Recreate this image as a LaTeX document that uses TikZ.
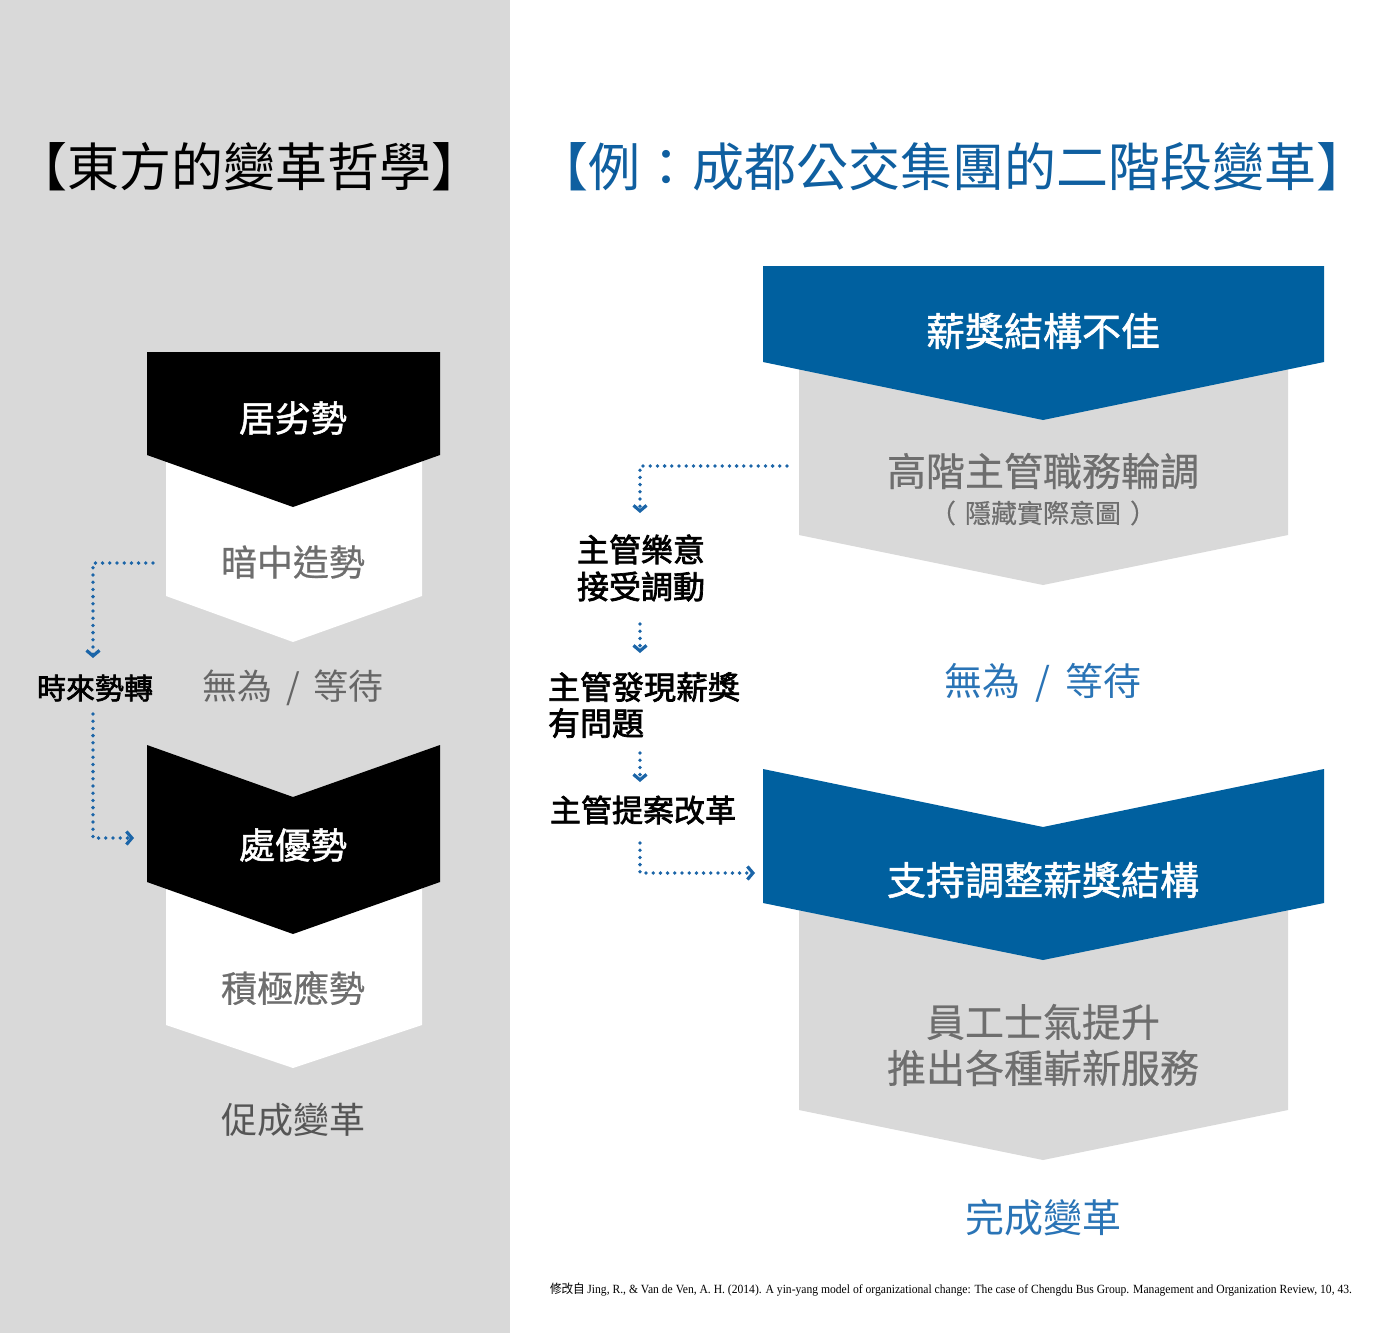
\documentclass[tikz,border=0pt]{standalone}
\usepackage{fontspec}
\setmainfont{Noto Sans CJK TC}
\newfontfamily\medA{Noto Sans CJK TC}[FakeBold=1.4]
\newfontfamily\medB{Noto Sans CJK TC}[FakeBold=0.5]
\newfontfamily\medC{Noto Sans CJK TC}[FakeBold=2.2]
\newfontfamily\citefont{Liberation Serif}
\usetikzlibrary{arrows.meta}
\definecolor{leftbg}{HTML}{D9D9D9}
\definecolor{shapegray}{HTML}{D9D9D9}
\definecolor{mainblue}{HTML}{00609F}
\definecolor{dotblue}{HTML}{1B65A8}
\definecolor{lightblue}{HTML}{2A74B6}
\definecolor{titleblue}{HTML}{0F5FA0}
\definecolor{midgray}{HTML}{6E6E6E}
\definecolor{darkgray}{HTML}{555555}
\tikzset{
  dotline/.style={draw=dotblue, line width=3.8pt, line cap=round, dash pattern=on 0pt off 7.2pt,
    -{Straight Barb[length=5.5pt,width=13pt,line width=3.2pt]}},
  txt/.style={inner sep=0pt, outer sep=0pt},
  whitehead/.style={txt, text=white, font=\fontsize{#1}{#1}\selectfont\medA},
  grayin/.style={txt, text=midgray, font=\fontsize{#1}{#1}\selectfont\medB},
  blackside/.style={txt, text=black, font=\fontsize{#1}{#1}\selectfont\medC},
  bluesoft/.style={txt, text=lightblue, font=\fontsize{#1}{#1}\selectfont},
}
\begin{document}
\begin{tikzpicture}[x=1pt,y=-1pt]
\useasboundingbox (0,0) rectangle (1400,1333);
\fill[white] (0,0) rectangle (1400,1333);
\fill[leftbg] (0,0) rectangle (510,1333);

% ---------- left column shapes ----------
\fill[white] (166,440) -- (293,480) -- (422,440) -- (422,596) -- (293,642) -- (166,596) -- cycle;
\fill[black] (147,352) -- (440,352) -- (440,455) -- (293,507) -- (147,455) -- cycle;
\fill[white] (166,870) -- (293,910) -- (422,870) -- (422,1025) -- (293,1068) -- (166,1025) -- cycle;
\fill[black] (147,745) -- (293,797) -- (440,745) -- (440,882) -- (293,934) -- (147,882) -- cycle;

% ---------- right column shapes ----------
\fill[shapegray] (799,350) -- (1043,400) -- (1288,350) -- (1288,535) -- (1043,585) -- (799,535) -- cycle;
\fill[mainblue] (763,266) -- (1324,266) -- (1324,362) -- (1043,420) -- (763,362) -- cycle;
\fill[shapegray] (799,890) -- (1043,940) -- (1288,890) -- (1288,1110) -- (1043,1160) -- (799,1110) -- cycle;
\fill[mainblue] (763,769) -- (1043,827) -- (1324,769) -- (1324,903) -- (1043,960) -- (763,903) -- cycle;

% ---------- titles ----------
\node[txt, font=\fontsize{52}{52}\selectfont] (ltitle) at (250,167) {【東方的變革哲學】};
\node[txt, text=titleblue, font=\fontsize{52}{52}\selectfont] (rtitle) at (952,167) {【例：成都公交集團的二階段變革】};

% ---------- left texts ----------
\node[whitehead=36] (l1) at (293,418) {居劣勢};
\node[grayin=36] (l2) at (293,562) {暗中造勢};
\node[blackside=29] (l3) at (95,688) {時來勢轉};
\node[txt, text=darkgray!90, font=\fontsize{35}{35}\selectfont] (l4) at (293,688) {無為\hspace{0.4em}/\hspace{0.4em}等待};
\node[whitehead=36] (l5) at (293,845) {處優勢};
\node[grayin=36] (l6) at (293,988) {積極應勢};
\node[txt, text=darkgray, font=\fontsize{36}{36}\selectfont] (l7) at (293,1120) {促成變革};

% ---------- right texts ----------
\node[whitehead=39] (r1) at (1043,331) {薪獎結構不佳};
\node[grayin=39] (r2) at (1043,471) {高階主管職務輪調};
\node[grayin=26] (r3) at (1043,513) {（\hspace{0.35em}隱藏實際意圖\hspace{0.35em}）};
\node[blackside=32, align=left, anchor=west, font=\fontsize{32}{37}\selectfont\medC] (s1) at (577,568) {主管樂意\\接受調動};
\node[blackside=32, align=left, anchor=west, font=\fontsize{32}{36}\selectfont\medC] (s2) at (548,705) {主管發現薪獎\\有問題};
\node[blackside=31, anchor=west] (s3) at (550,810) {主管提案改革};
\node[bluesoft=38] (r4) at (1043,683) {無為\hspace{0.4em}/\hspace{0.4em}等待};
\node[whitehead=39] (r5) at (1043,880) {支持調整薪獎結構};
\node[grayin=39, align=center, font=\fontsize{39}{46}\selectfont\medB] (r6) at (1043,1045) {員工士氣提升\\推出各種嶄新服務};
\node[bluesoft=39] (r7) at (1043,1218) {完成變革};

% ---------- citation ----------
\node[txt, anchor=west] (cite) at (550,1290) {\resizebox{802pt}{\height}{\fontsize{12.5}{14}\selectfont 修改自\ \citefont Jing, R., \& Van de Ven, A. H. (2014). A yin-yang model of organizational change: The case of Chengdu Bus Group. Management and Organization Review, 10, 43.}};

% ---------- connector end points ----------
\coordinate (la) at (153,563);
\coordinate (lb) at (93,658);
\coordinate (lc) at (93,714);
\coordinate (ld) at (134,838);
\coordinate (ra) at (787,466);
\coordinate (rb) at (640,513);
\coordinate (rc) at (640,624);
\coordinate (rd) at (640,653);
\coordinate (re) at (640,753);
\coordinate (rf) at (640,782);
\coordinate (rg) at (640,843);
\coordinate (rh) at (755,873);

\draw[dotline] (la) -| (lb);
\draw[dotline] (lc) |- (ld);
\draw[dotline] (ra) -| (rb);
\draw[dotline] (rc) -- (rd);
\draw[dotline] (re) -- (rf);
\draw[dotline] (rg) |- (rh);
\end{tikzpicture}
\end{document}
